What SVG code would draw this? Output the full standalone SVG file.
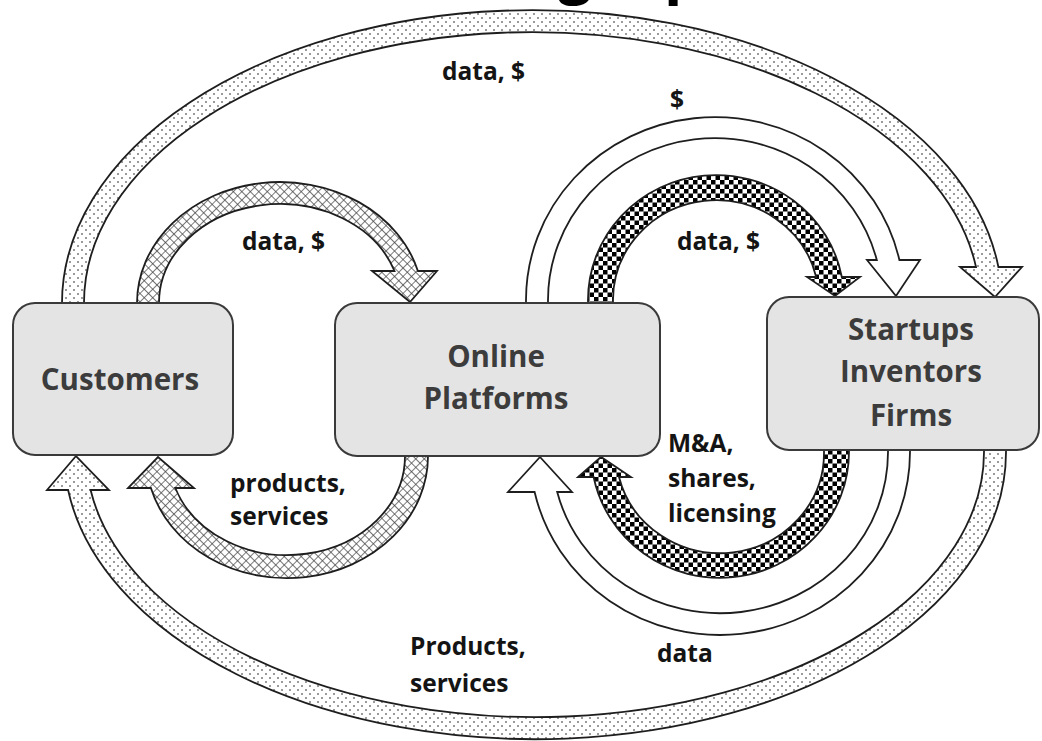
<svg xmlns="http://www.w3.org/2000/svg" width="1042" height="741" viewBox="0 0 1042 741">
  <style>
    .band { stroke: #1e1e1e; stroke-width: 1.8; stroke-linejoin: miter; }
    .dots { fill: url(#dots); }
    .hatch { fill: url(#hatch); }
    .check { fill: url(#check); }
    .plain { fill: #ffffff; }
    .box { fill: #e4e4e4; stroke: #3a3a3a; stroke-width: 2; }
    .title { font-family: "Open Sans", "Liberation Sans", sans-serif; font-weight: 700; font-size: 29.5px; fill: #3c3c3c; text-anchor: middle; }
    .lbl { font-family: "Open Sans", "Liberation Sans", sans-serif; font-weight: 700; font-size: 24.5px; fill: #141414; }
    .head { font-family: "Open Sans", "Liberation Sans", sans-serif; font-weight: 700; font-size: 60px; fill: #000; }
  </style>
  <defs>
    <pattern id="dots" width="8" height="8" patternUnits="userSpaceOnUse">
      <rect width="8" height="8" fill="#fff"/>
      <circle cx="2" cy="2" r="1" fill="#7a7a7a"/>
      <circle cx="6" cy="6" r="1" fill="#7a7a7a"/>
    </pattern>
    <pattern id="hatch" width="6" height="6" patternUnits="userSpaceOnUse" patternTransform="rotate(45)">
      <rect width="6" height="6" fill="#fff"/>
      <path d="M0 0 H6 M0 0 V6" stroke="#444" stroke-width="1.4"/>
    </pattern>
    <pattern id="check" width="9" height="9" patternUnits="userSpaceOnUse">
      <rect width="9" height="9" fill="#fff"/>
      <rect x="0" y="0" width="4.5" height="4.5" fill="#000"/>
      <rect x="4.5" y="4.5" width="4.5" height="4.5" fill="#000"/>
    </pattern>
  </defs>

  <rect width="1042" height="741" fill="#fff"/>

  <!-- heading, mostly above the frame -->
  <text class="head" y="-9"><tspan x="558">g</tspan><tspan x="664">p</tspan></text>

  <!-- flows between the parties -->
  <g id="connectors">
    <!-- customers -> startups (outer, top) -->
    <path class="band dots" d="M62 306 L62 303 A470 293 0 0 1 998.4 267 L1022 267 L995 297 L960 267 L976 267 A448 271 0 0 0 84 303 L84 306 Z"/>
    <!-- startups -> customers (outer, bottom) -->
    <path class="band dots" d="M1006 446 L1006 452 A471 287 0 0 1 68.1 490 L47 490 L76 456 L109 490 L90.6 490 A449 265 0 0 0 984 452 L984 446 Z"/>
    <!-- customers -> platforms -->
    <path class="band hatch" d="M137 306 L137 303 A143 121 0 0 1 417.9 271 L437 271 L410 302 L372 271 L394.5 271 A121 99 0 0 0 159 303 L159 306 Z"/>
    <!-- platforms -> customers -->
    <path class="band hatch" d="M428 452 L428 456 A141 122 0 0 1 150.9 488 L128 488 L158 457 L194 488 L175.3 488 A118 99 0 0 0 405 456 L405 452 Z"/>
    <!-- platforms -> startups ($) -->
    <path class="band plain" d="M526 306 L526 300 A189 183 0 0 1 899.4 260 L920 260 L896 296 L867 260 L876.8 260 A167 162 0 0 0 548 300 L548 306 Z"/>
    <!-- platforms -> startups (data, $) -->
    <path class="band check" d="M588 306 L588 300 A128 125 0 0 1 841.8 277 L860 277 L835 296 L807 277 L816.2 277 A103 100 0 0 0 613 300 L613 306 Z"/>
    <!-- startups -> platforms (M&A, shares, licensing) -->
    <path class="band check" d="M849 446 L849 452 A129 126 0 0 1 593.6 477 L578 477 L601 457 L631 477 L619 477 A104 100 0 0 0 824 452 L824 446 Z"/>
    <!-- startups -> platforms (data) -->
    <path class="band plain" d="M910 446 L910 452 A190 183 0 0 1 534.6 492 L508 492 L540 457 L572 492 L557.2 492 A168 161 0 0 0 888 452 L888 446 Z"/>
  </g>

  <g id="customers">
    <rect class="box" x="13" y="303" width="220" height="152" rx="22"/>
    <text class="title" x="120" y="390">Customers</text>
  </g>

  <g id="platforms">
    <rect class="box" x="335" y="303" width="325" height="153" rx="22"/>
    <text class="title" x="496" y="367">Online</text>
    <text class="title" x="496" y="409">Platforms</text>
  </g>

  <g id="startups">
    <rect class="box" x="767" y="297" width="272" height="153" rx="22"/>
    <text class="title" x="911" y="340">Startups</text>
    <text class="title" x="911" y="382">Inventors</text>
    <text class="title" x="911" y="426">Firms</text>
  </g>

  <g id="labels">
    <text class="lbl" x="442" y="80">data, $</text>
    <text class="lbl" x="670" y="108">$</text>
    <text class="lbl" x="242" y="250">data, $</text>
    <text class="lbl" x="677" y="250">data, $</text>
    <text class="lbl" x="230" y="492">products,</text>
    <text class="lbl" x="230" y="525">services</text>
    <text class="lbl" x="668" y="452">M&amp;A,</text>
    <text class="lbl" x="668" y="487">shares,</text>
    <text class="lbl" x="668" y="522">licensing</text>
    <text class="lbl" x="410" y="655">Products,</text>
    <text class="lbl" x="410" y="692">services</text>
    <text class="lbl" x="657" y="662">data</text>
  </g>
</svg>
